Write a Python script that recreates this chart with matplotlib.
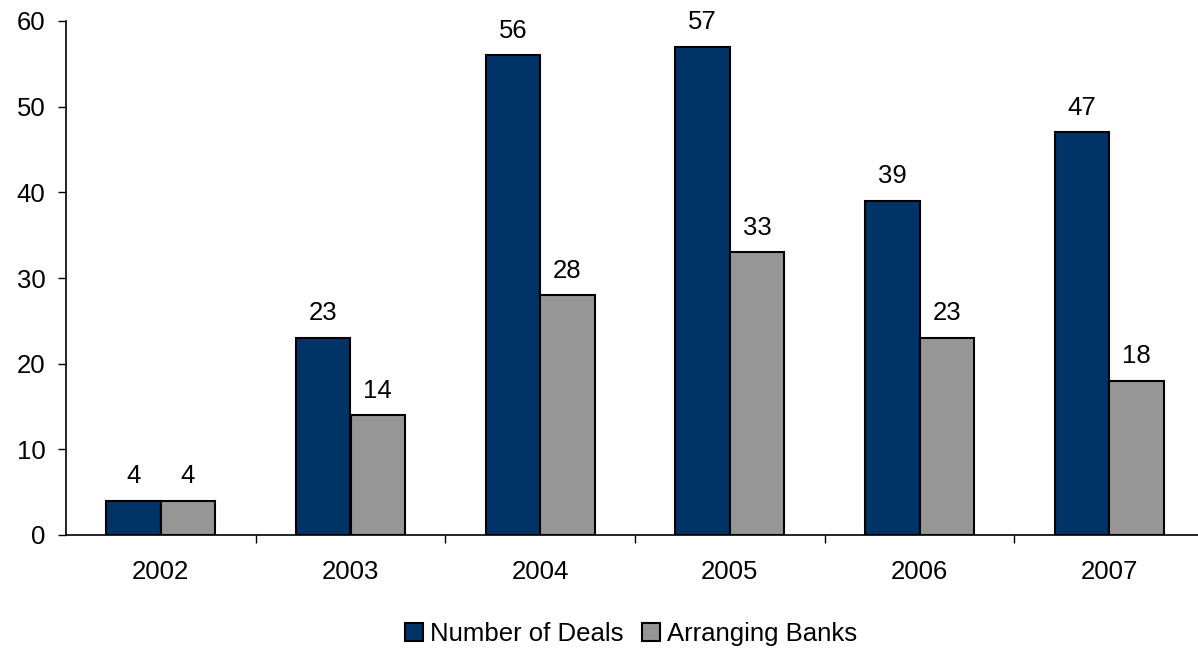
import matplotlib
matplotlib.use("Agg")
import matplotlib.pyplot as plt
import numpy as np

years = ["2002", "2003", "2004", "2005", "2006", "2007"]
deals = [4, 23, 56, 57, 39, 47]
banks = [4, 14, 28, 33, 23, 18]
series_names = ["Number of Deals", "Arranging Banks"]
colors = ["#003366", "#969696"]

plt.rcParams['font.family'] = ['Liberation Sans', 'DejaVu Sans']
FS = 18.5

W, H = 1198, 650
fig = plt.figure(figsize=(W / 100, H / 100), dpi=100)
left, right = 66 / W, 1204 / W
bottom, top = (H - 535) / H, (H - 21) / H
ax = fig.add_axes([left, bottom, right - left, top - bottom])

x = np.arange(len(years))
bw = 0.287
b1 = ax.bar(x - bw / 2, deals, bw, color=colors[0], edgecolor='black', linewidth=1.5,
            label=series_names[0])
b2 = ax.bar(x + bw / 2, banks, bw, color=colors[1], edgecolor='black', linewidth=1.5,
            label=series_names[1])

for bars in (b1, b2):
    for r in bars:
        ax.annotate(f"{int(r.get_height())}", (r.get_x() + r.get_width() / 2, r.get_height()),
                    xytext=(0, 9), textcoords='offset points', ha='center', va='bottom',
                    fontsize=FS)

ax.set_xlim(-0.5, len(years) - 0.5)
ax.set_ylim(0, 60)
ax.set_yticks(range(0, 61, 10))
ax.tick_params(axis='y', labelsize=FS, length=5.8, width=1, direction='out', pad=9)
ax.set_xticks(x)
ax.set_xticklabels(years)
ax.set_xticks(np.arange(0.5, len(years) - 0.5 + 0.01, 1.0), minor=True)
ax.tick_params(axis='x', which='major', length=0, labelsize=FS, pad=18)
ax.tick_params(axis='x', which='minor', length=5.8, width=1, direction='out')

for s in ['top', 'right']:
    ax.spines[s].set_visible(False)
for s in ['left', 'bottom']:
    ax.spines[s].set_linewidth(1.2)

leg = fig.legend(handles=[b1, b2], labels=series_names, loc='center',
                 bbox_to_anchor=(631 / W, 1 - 634 / H), ncol=2, frameon=False,
                 fontsize=FS, handlelength=0.7, handleheight=0.7,
                 handletextpad=0.27, columnspacing=0.74, borderpad=0.1)

fig.savefig("out.png", dpi=100)
